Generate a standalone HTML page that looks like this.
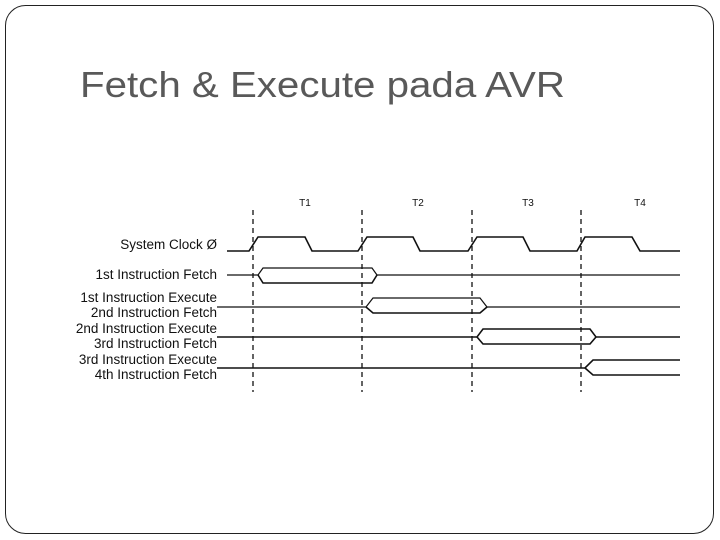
<!DOCTYPE html>
<html><head><style>
html,body{margin:0;padding:0;background:#fff;}
body{width:720px;height:540px;position:relative;overflow:hidden;font-family:"Liberation Sans",sans-serif;}
</style></head><body>
<svg width="720" height="540" viewBox="0 0 720 540" xmlns="http://www.w3.org/2000/svg" style="position:absolute;left:0;top:0">
<rect x="5.5" y="5.5" width="708" height="528" rx="20" ry="20" fill="none" stroke="#222" stroke-width="1"/>
<text x="80" y="97" font-family="Liberation Sans, sans-serif" font-size="36" fill="#595959" textLength="485" lengthAdjust="spacingAndGlyphs">Fetch &amp; Execute pada AVR</text>
<g font-family="Liberation Sans, sans-serif" font-size="13.5" fill="#111" text-anchor="end">
<text x="217" y="249">System Clock Ø</text>
<text x="217" y="279">1st Instruction Fetch</text>
<text x="217" y="302">1st Instruction Execute</text>
<text x="217" y="317">2nd Instruction Fetch</text>
<text x="217" y="333">2nd Instruction Execute</text>
<text x="217" y="348">3rd Instruction Fetch</text>
<text x="217" y="364">3rd Instruction Execute</text>
<text x="217" y="379">4th Instruction Fetch</text>
</g>
<g font-family="Liberation Sans, sans-serif" font-size="10" fill="#111" text-anchor="middle">
<text x="305" y="206">T1</text><text x="418" y="206">T2</text><text x="528" y="206">T3</text><text x="640" y="206">T4</text>
</g>
<g stroke="#111" stroke-width="1.3" stroke-dasharray="5,4">
<line x1="253" y1="210" x2="253" y2="392"/>
<line x1="362" y1="210" x2="362" y2="392"/>
<line x1="472" y1="210" x2="472" y2="392"/>
<line x1="581" y1="210" x2="581" y2="392"/>
</g>
<g fill="none" stroke="#111" stroke-width="1.6">
<polyline points="227,251 249,251 258,237 305,237 312,251 358,251 367,237 413,237 420,251 468,251 477,237 523,237 530,251 577,251 585,237 632,237 640,251 680,251"/>
<polyline points="227,275 258,275 263,268 372,268 377,275 680,275" stroke-width="1.2"/>
<polyline points="258,275 263,283 372,283 377,275"/>
<polyline points="217,307 366,307 373,298 480,298 487,307 680,307" stroke-width="1.2"/>
<polyline points="366,307 373,313 480,313 487,307"/>
<polyline points="217,337 477,337 483,329 590,329 596,337 680,337"/>
<polyline points="477,337 483,344 590,344 596,337"/>
<polyline points="217,368 585,368 593,360 680,360"/>
<polyline points="585,368 593,375 680,375"/>
</g>
</svg>
</body></html>
